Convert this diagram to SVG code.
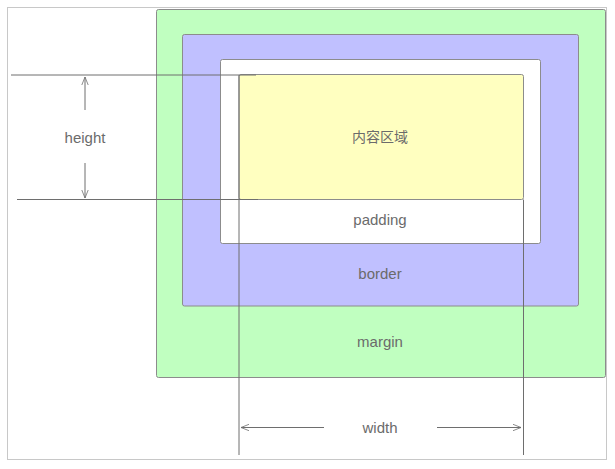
<svg xmlns="http://www.w3.org/2000/svg" width="615" height="469" viewBox="0 0 615 469">
<style>
.box{stroke:#8c8c8c;stroke-width:1}
.ln{stroke:#6e6e6e;stroke-width:1;fill:none}
.lbl{font-family:"Liberation Sans","Noto Sans CJK SC",sans-serif;font-size:15px;fill:#6b6b6b;text-anchor:middle;dominant-baseline:central}
.cjk{font-size:14px}
</style>
<defs>
<marker id="arr" viewBox="0 0 10 10" refX="10" refY="5" markerWidth="8" markerHeight="8" orient="auto-start-reverse" markerUnits="userSpaceOnUse">
<path d="M0,1 L10,5 L0,9" fill="none" stroke="#6e6e6e" stroke-width="1"/>
</marker>
</defs>
<rect x="7.5" y="7.5" width="599" height="452" fill="#fff" stroke="#c8c8c8"/>
<g id="margin">
<rect class="box" x="156.5" y="9.5" width="449" height="368" rx="2" fill="#c0ffc0"/>
<text class="lbl" x="380" y="341">margin</text>
</g>
<g id="border">
<rect class="box" x="182.5" y="34.5" width="396" height="271.5" rx="2" fill="#c0c0ff"/>
<text class="lbl" x="380" y="273">border</text>
</g>
<g id="padding">
<rect class="box" x="220.5" y="59.5" width="320" height="184" rx="2" fill="#fff"/>
<text class="lbl" x="380" y="219">padding</text>
</g>
<g id="content">
<rect class="box" x="239" y="74.5" width="284.5" height="125" rx="2" fill="#ffffc0"/>
<text class="lbl cjk" x="380" y="137">内容区域</text>
</g>
<g id="connectors">
<line class="ln" x1="11" y1="75" x2="256" y2="75"/>
<line class="ln" x1="17" y1="199.5" x2="258" y2="199.5"/>
<line class="ln" x1="239" y1="75" x2="239" y2="455"/>
<line class="ln" x1="523.5" y1="199.5" x2="523.5" y2="455"/>
<line class="ln" x1="85" y1="110" x2="85" y2="77" marker-end="url(#arr)"/>
<line class="ln" x1="85" y1="163" x2="85" y2="198" marker-end="url(#arr)"/>
<line class="ln" x1="324" y1="427.5" x2="241" y2="427.5" marker-end="url(#arr)"/>
<line class="ln" x1="437" y1="427.5" x2="521" y2="427.5" marker-end="url(#arr)"/>
</g>
<g id="height-label"><text class="lbl" x="85" y="137">height</text></g>
<g id="width-label"><text class="lbl" x="380" y="427">width</text></g>
</svg>
